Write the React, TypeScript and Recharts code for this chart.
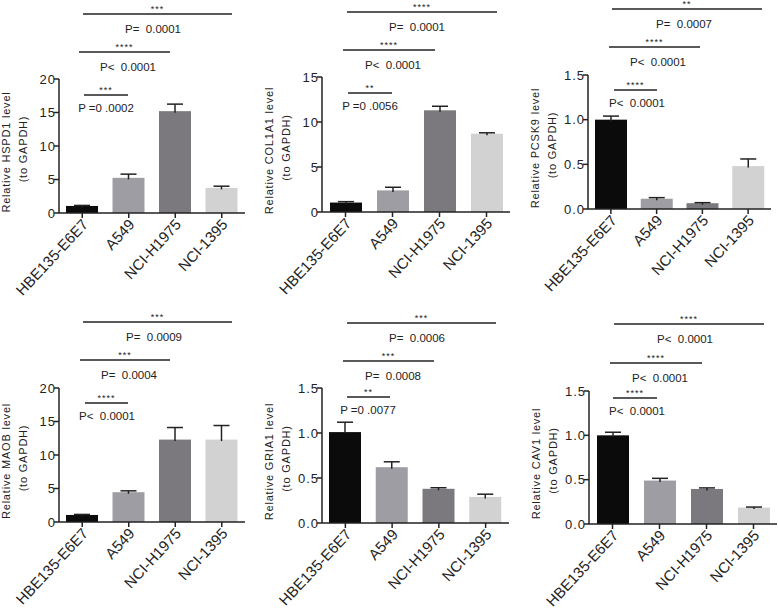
import { Bar, BarChart, XAxis, YAxis } from "recharts";

const FONT = "'Liberation Sans', Arial, sans-serif";
const INK = "#222222";

const CELL_LINES = ["HBE135-E6E7", "A549", "NCI-H1975", "NCI-1395"];
const BAR_COLORS = ["#0b0b0b", "#9f9da4", "#7b797d", "#d2d2d2"];

const TICKS_20 = [0, 5, 10, 15, 20];
const TICKS_15 = [0, 5, 10, 15];
const TICKS_RATIO = [0, 0.5, 1, 1.5];

const HSPD1_MEAN = [1.05, 5.25, 15.2, 3.75];
const HSPD1_ERR = [0.08, 0.55, 1.05, 0.25];
const COL1A1_MEAN = [1.05, 2.4, 11.3, 8.7];
const COL1A1_ERR = [0.1, 0.35, 0.45, 0.1];
const PCSK9_MEAN = [1.0, 0.115, 0.065, 0.48];
const PCSK9_ERR = [0.04, 0.012, 0.006, 0.08];
const MAOB_MEAN = [1.05, 4.45, 12.3, 12.3];
const MAOB_ERR = [0.08, 0.2, 1.8, 2.1];
const GRIA1_MEAN = [1.01, 0.62, 0.38, 0.29];
const GRIA1_ERR = [0.11, 0.06, 0.012, 0.03];
const CAV1_MEAN = [1.0, 0.49, 0.395, 0.185];
const CAV1_ERR = [0.035, 0.025, 0.012, 0.006];

// stars + p value for the three brackets of each panel, top to bottom
const HSPD1_STATS = [["***", "P=  0.0001"], ["****", "P<  0.0001"], ["***", "P =0 .0002"]];
const COL1A1_STATS = [["****", "P=  0.0001"], ["****", "P<  0.0001"], ["**", "P =0 .0056"]];
const PCSK9_STATS = [["**", "P=  0.0007"], ["****", "P<  0.0001"], ["****", "P<  0.0001"]];
const MAOB_STATS = [["***", "P=  0.0009"], ["***", "P=  0.0004"], ["****", "P<  0.0001"]];
const GRIA1_STATS = [["***", "P=  0.0006"], ["***", "P=  0.0008"], ["**", "P =0 .0077"]];
const CAV1_STATS = [["****", "P<  0.0001"], ["****", "P<  0.0001"], ["****", "P<  0.0001"]];

// x1, x2, line y, p value centre x for each bracket
type Bracket = [number, number, number, number];

const PANELS = [
  {
    gene: "HSPD1", mean: HSPD1_MEAN, err: HSPD1_ERR, stats: HSPD1_STATS, ticks: TICKS_20,
    left: 59, top: 79, right: 245, bottom: 213,
    brackets: [[83, 232, 14, 153], [79, 170, 52, 128], [84, 128, 95, 106]] as Bracket[],
  },
  {
    gene: "COL1A1", mean: COL1A1_MEAN, err: COL1A1_ERR, stats: COL1A1_STATS, ticks: TICKS_15,
    left: 322, top: 77, right: 510, bottom: 212,
    brackets: [[347, 497, 12, 417], [343, 435, 50, 393], [348, 392, 93, 370]] as Bracket[],
  },
  {
    gene: "PCSK9", mean: PCSK9_MEAN, err: PCSK9_ERR, stats: PCSK9_STATS, ticks: TICKS_RATIO,
    left: 588, top: 75, right: 771, bottom: 209,
    brackets: [[612, 762, 9, 684], [609, 700, 47, 658], [614, 657, 90, 637]] as Bracket[],
  },
  {
    gene: "MAOB", mean: MAOB_MEAN, err: MAOB_ERR, stats: MAOB_STATS, ticks: TICKS_20,
    left: 59, top: 388, right: 245, bottom: 522,
    brackets: [[83, 232, 322, 154], [80, 170, 360, 129], [85, 128, 403, 107]] as Bracket[],
  },
  {
    gene: "GRIA1", mean: GRIA1_MEAN, err: GRIA1_ERR, stats: GRIA1_STATS, ticks: TICKS_RATIO,
    left: 322, top: 388, right: 509, bottom: 523,
    brackets: [[347, 496, 323, 417], [343, 434, 361, 393], [347, 390, 397, 368]] as Bracket[],
  },
  {
    gene: "CAV1", mean: CAV1_MEAN, err: CAV1_ERR, stats: CAV1_STATS, ticks: TICKS_RATIO,
    left: 589, top: 391, right: 777, bottom: 524,
    brackets: [[614, 764, 324, 685], [610, 702, 363, 660], [613, 657, 398, 637]] as Bracket[],
  },
];

type Panel = (typeof PANELS)[number];

const AXIS_GUTTER = 60;

// Upper-only error bar: ErrorBar always draws a lower cap, which the reference doesn't have.
function BarWithError(props: any) {
  const { x, y, width, height, payload, index } = props;
  const armLength = (height / payload.mean) * payload.err;
  const cx = x + width / 2;
  return (
    <g>
      <rect x={x} y={y} width={width} height={height} fill={BAR_COLORS[index]} />
      <g stroke={INK} strokeWidth={1.5}>
        <line x1={cx} x2={cx} y1={y + 1.5} y2={y - armLength} />
        <line x1={cx - 8} x2={cx + 8} y1={y - armLength} y2={y - armLength} />
      </g>
    </g>
  );
}

function GeneChart({ panel }: { panel: Panel }) {
  const data = CELL_LINES.map((name, i) => ({
    name,
    mean: panel.mean[i],
    err: panel.err[i],
  }));
  const isRatio = panel.ticks === TICKS_RATIO;
  return (
    <div style={{ position: "absolute", left: panel.left - AXIS_GUTTER, top: panel.top - 10 }}>
      <BarChart
        width={panel.right - panel.left + AXIS_GUTTER + 1}
        height={panel.bottom - panel.top + 100}
        data={data}
        margin={{ top: 10, right: 1, bottom: 0, left: 0 }}
        barCategoryGap={0}
      >
        <XAxis
          dataKey="name"
          height={90}
          interval={0}
          angle={-47}
          textAnchor="end"
          tickSize={5}
          tickMargin={0}
          stroke={INK}
          strokeWidth={1.5}
          tick={{ fontSize: 15, fontFamily: FONT, fill: INK, dx: -1 }}
        />
        <YAxis
          width={AXIS_GUTTER}
          domain={[0, panel.ticks[panel.ticks.length - 1]]}
          ticks={panel.ticks}
          tickFormatter={(v: number) => (isRatio ? v.toFixed(1) : String(v))}
          tickSize={5}
          tickMargin={-2}
          stroke={INK}
          strokeWidth={1.5}
          tick={{ fontSize: 13, fontFamily: FONT, fill: INK, letterSpacing: 1 }}
        />
        <Bar dataKey="mean" barSize={32} shape={BarWithError} isAnimationActive={false} />
      </BarChart>
    </div>
  );
}

function Annotations({ panel }: { panel: Panel }) {
  const titleY = (panel.top + panel.bottom) / 2 + 6;
  const baseA = panel.left - 49;
  const baseB = panel.left - 32;
  return (
    <g fontFamily={FONT} fill={INK}>
      <text
        transform={`rotate(-90 ${baseA} ${titleY})`}
        x={baseA}
        y={titleY}
        fontSize={11}
        letterSpacing={0.8}
        textAnchor="middle"
      >
        {`Relative ${panel.gene} level`}
      </text>
      <text
        transform={`rotate(-90 ${baseB} ${titleY - 3})`}
        x={baseB}
        y={titleY - 3}
        fontSize={11}
        letterSpacing={0.8}
        textAnchor="middle"
      >
        (to GAPDH)
      </text>
      {panel.brackets.map(([x1, x2, y, px], i) => (
        <g key={i}>
          <line x1={x1} x2={x2} y1={y} y2={y} stroke={INK} strokeWidth={1.4} />
          <text x={(x1 + x2) / 2} y={y - 2} fontSize={9} letterSpacing={1} textAnchor="middle">
            {panel.stats[i][0]}
          </text>
          <text x={px} y={y + (i === 2 ? 17 : 19)} fontSize={11.5} textAnchor="middle" xmlSpace="preserve">
            {panel.stats[i][1]}
          </text>
        </g>
      ))}
    </g>
  );
}

export default function App() {
  return (
    <div style={{ position: "absolute", left: 0, top: 0, width: 778, height: 610, background: "#fff", overflow: "hidden" }}>
      {PANELS.map((p) => (
        <GeneChart key={p.gene} panel={p} />
      ))}
      <svg width={778} height={610} style={{ position: "absolute", left: 0, top: 0 }}>
        {PANELS.map((p) => (
          <Annotations key={p.gene} panel={p} />
        ))}
      </svg>
    </div>
  );
}
